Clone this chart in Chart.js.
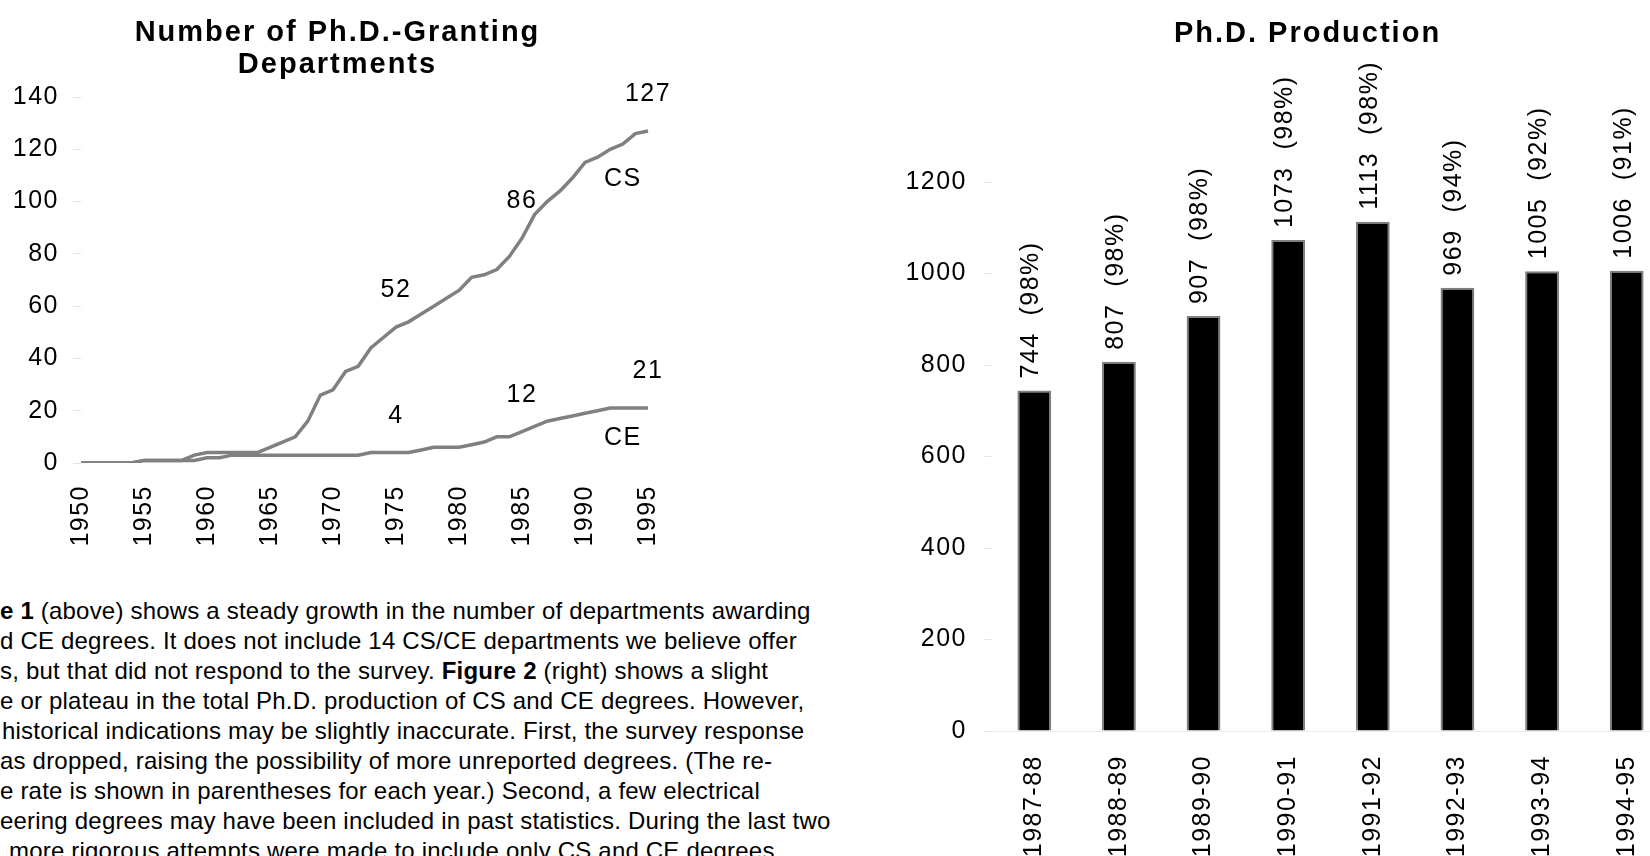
<!DOCTYPE html>
<html>
<head>
<meta charset="utf-8">
<script src="https://cdn.jsdelivr.net/npm/chart.js@4.4.1/dist/chart.umd.min.js"></script>
<style>
  html, body { margin: 0; padding: 0; background: #fff; width: 1650px; height: 856px; overflow: hidden; }
  #depts { position: absolute; left: 0; top: 0; }
  #phd { position: absolute; left: 850px; top: 0; }
  #text { position: absolute; left: 0; top: 596px; font: 24px "Liberation Sans", Arial, sans-serif;
          line-height: 30px; letter-spacing: 0.2px; white-space: pre; color: #000; }
  #text b { font-weight: bold; }
</style>
</head>
<body>
<canvas id="depts" width="700" height="560"></canvas>
<canvas id="phd" width="850" height="856"></canvas>
<div id="text"><div><b>e 1</b> (above) shows a steady growth in the number of departments awarding</div><div>d CE degrees. It does not include 14 CS/CE departments we believe offer</div><div>s, but that did not respond to the survey. <b>Figure 2</b> (right) shows a slight</div><div>e or plateau in the total Ph.D. production of CS and CE degrees. However,</div><div style="padding-left:2px">historical indications may be slightly inaccurate. First, the survey response</div><div>as dropped, raising the possibility of more unreported degrees. (The re-</div><div>e rate is shown in parentheses for each year.) Second, a few electrical</div><div>eering degrees may have been included in past statistics. During the last two</div><div style="padding-left:9px">more rigorous attempts were made to include only CS and CE degrees.</div></div>
<script>
// Figure 1 - number of Ph.D.-granting departments
var years = ['1950', '1951', '1952', '1953', '1954', '1955', '1956', '1957', '1958', '1959',
             '1960', '1961', '1962', '1963', '1964', '1965', '1966', '1967', '1968', '1969',
             '1970', '1971', '1972', '1973', '1974', '1975', '1976', '1977', '1978', '1979',
             '1980', '1981', '1982', '1983', '1984', '1985', '1986', '1987', '1988', '1989',
             '1990', '1991', '1992', '1993', '1994', '1995'];
var shownYears = ['1950', '1955', '1960', '1965', '1970', '1975', '1980', '1985', '1990', '1995'];
var labelYears = ['1975', '1985', '1995'];
var cs = [0, 0, 0, 0, 0, 1, 1, 1, 1, 3,
          4, 4, 4, 4, 4, 6, 8, 10, 16, 26,
          28, 35, 37, 44, 48, 52, 54, 57, 60, 63,
          66, 71, 72, 74, 79, 86, 95, 100, 104, 109,
          115, 117, 120, 122, 126, 127];
var ce = [0, 0, 0, 0, 0, 1, 1, 1, 1, 1,
          2, 2, 3, 3, 3, 3, 3, 3, 3, 3,
          3, 3, 3, 4, 4, 4, 4, 5, 6, 6,
          6, 7, 8, 10, 10, 12, 14, 16, 17, 18,
          19, 20, 21, 21, 21, 21];

// Figure 2 - Ph.D. production
var periods = ['1987-88', '1988-89', '1989-90', '1990-91', '1991-92', '1992-93', '1993-94', '1994-95'];
var phds = [744, 807, 907, 1073, 1113, 969, 1005, 1006];
var response = [98, 98, 98, 98, 98, 94, 92, 91];

var FONT = '"Liberation Sans", Arial, sans-serif';
Chart.defaults.font.family = FONT;
Chart.defaults.font.size = 25;
Chart.defaults.color = '#000';

// wider glyph spacing, like the scanned figures
var spacing = {
  id: 'spacing',
  beforeUpdate: function (chart) { chart.ctx.letterSpacing = '1.5px'; },
  beforeDraw: function (chart) { chart.ctx.letterSpacing = '1.5px'; }
};

var heading = {
  id: 'heading',
  afterDraw: function (chart, args, opts) {
    var ctx = chart.ctx, area = chart.chartArea;
    ctx.save();
    ctx.font = 'bold 29px ' + FONT;
    ctx.letterSpacing = '2px';
    ctx.fillStyle = '#000';
    ctx.textAlign = 'center';
    ctx.textBaseline = 'alphabetic';
    var cx = (area.left + area.right) / 2 + opts.shift;
    opts.lines.forEach(function (t, i) {
      ctx.fillText(t, cx, opts.baseline + i * opts.lineGap);
    });
    ctx.restore();
  }
};

// values above the points and series names next to the lines
var lineNotes = {
  id: 'lineNotes',
  afterDatasetsDraw: function (chart) {
    var ctx = chart.ctx;
    ctx.save();
    ctx.font = '25px ' + FONT;
    ctx.letterSpacing = '1.5px';
    ctx.fillStyle = '#000';
    ctx.textAlign = 'center';
    ctx.textBaseline = 'alphabetic';
    chart.data.datasets.forEach(function (ds, d) {
      var pts = chart.getDatasetMeta(d).data;
      labelYears.forEach(function (y) {
        var i = years.indexOf(y);
        ctx.fillText(String(ds.data[i]), pts[i].x, pts[i].y - 30);
      });
      var j = years.indexOf('1993');
      ctx.fillText(ds.label, pts[j].x, pts[j].y + ds.nameGap);
    });
    ctx.restore();
  }
};

var barNotes = {
  id: 'barNotes',
  afterDatasetsDraw: function (chart) {
    var ctx = chart.ctx;
    chart.getDatasetMeta(0).data.forEach(function (bar, i) {
      ctx.save();
      ctx.translate(bar.x - 3, bar.y - 12);
      ctx.rotate(-Math.PI / 2);
      ctx.font = '25px ' + FONT;
      ctx.letterSpacing = '1.5px';
      ctx.fillStyle = '#000';
      ctx.textAlign = 'left';
      ctx.textBaseline = 'middle';
      ctx.fillText(phds[i] + '  (' + response[i] + '%)', 0, 0);
      ctx.restore();
    });
  }
};

var depts = new Chart(document.getElementById('depts'), {
  type: 'line',
  data: {
    labels: years,
    datasets: [
      { label: 'CS', data: cs, borderColor: '#808080', borderWidth: 3.5, pointRadius: 0, tension: 0, nameGap: 42 },
      { label: 'CE', data: ce, borderColor: '#808080', borderWidth: 3.5, pointRadius: 0, tension: 0, nameGap: 37 }
    ]
  },
  options: {
    responsive: false,
    animation: false,
    layout: { padding: { left: 0, right: 38, top: 97, bottom: 0 } },
    plugins: {
      legend: { display: false },
      tooltip: { enabled: false },
      heading: { lines: ['Number of Ph.D.-Granting', 'Departments'], shift: -27, baseline: 40.5, lineGap: 32 }
    },
    scales: {
      x: {
        grid: { display: false, drawTicks: false },
        border: { display: false },
        ticks: {
          autoSkip: false, minRotation: 90, maxRotation: 90, padding: 22,
          callback: function (v, i) { return shownYears.indexOf(years[i]) >= 0 ? years[i] : null; }
        },
        afterFit: function (s) { s.height = 97; }
      },
      y: {
        min: 0, max: 140,
        ticks: { stepSize: 20, padding: 14, callback: function (v) { return String(v); } },
        grid: { drawOnChartArea: false, tickLength: 8, color: '#e4e4e4' },
        border: { display: false },
        afterFit: function (s) { s.width = 81; }
      }
    }
  },
  plugins: [spacing, heading, lineNotes]
});

var phd = new Chart(document.getElementById('phd'), {
  type: 'bar',
  data: {
    labels: periods,
    datasets: [{
      data: phds,
      backgroundColor: '#000000',
      borderColor: '#808080',
      borderWidth: 2,
      barPercentage: 0.4,
      categoryPercentage: 1
    }]
  },
  options: {
    responsive: false,
    animation: false,
    layout: { padding: { left: 0, right: 31, top: 182, bottom: 0 } },
    plugins: {
      legend: { display: false },
      tooltip: { enabled: false },
      heading: { lines: ['Ph.D. Production'], shift: -23, baseline: 42, lineGap: 0 }
    },
    scales: {
      x: {
        grid: { display: false, drawTicks: false },
        border: { color: '#ececec' },
        ticks: { autoSkip: false, minRotation: 90, maxRotation: 90, padding: 24 },
        afterFit: function (s) { s.height = 125; }
      },
      y: {
        min: 0, max: 1200,
        ticks: { stepSize: 200, padding: 17, callback: function (v) { return String(v); } },
        grid: { drawOnChartArea: false, tickLength: 8, color: '#e8e8e8' },
        border: { display: false },
        afterFit: function (s) { s.width = 142; }
      }
    }
  },
  plugins: [spacing, heading, barNotes]
});
</script>
</body>
</html>
